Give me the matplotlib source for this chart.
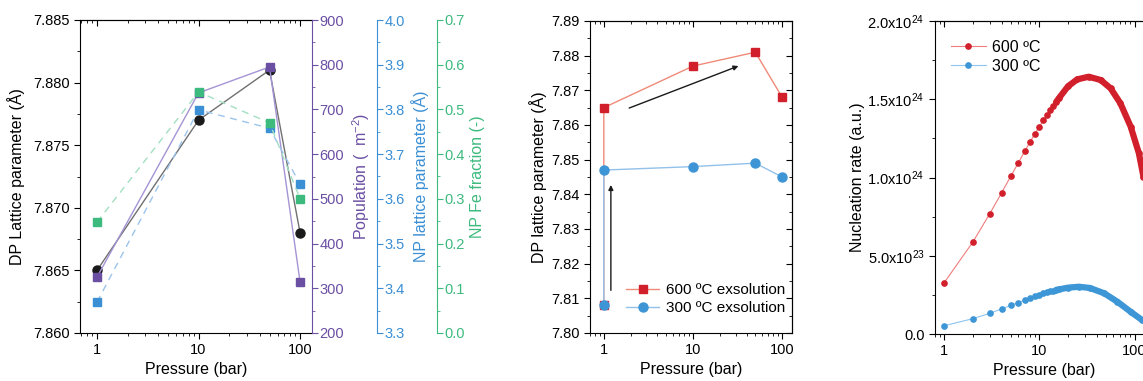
import numpy as np
import matplotlib
matplotlib.use("Agg")
import matplotlib.pyplot as plt
from matplotlib.ticker import MultipleLocator, FuncFormatter, LogLocator, NullFormatter, FixedLocator

plt.rcParams['font.family'] = ['Liberation Sans', 'DejaVu Sans']
plt.rcParams['font.size'] = 10.5
plt.rcParams['mathtext.fontset'] = 'custom'
plt.rcParams['mathtext.rm'] = 'Liberation Sans'
plt.rcParams['mathtext.default'] = 'regular'

# ---- panel 1 data ----
pressure = [1, 10, 50, 100]
dp_lattice = [7.865, 7.877, 7.881, 7.868]
population = [325, 737, 795, 314]
np_lattice = [3.369, 3.799, 3.758, 3.633]
fe_fraction = [0.248, 0.539, 0.470, 0.300]

# ---- panel 2 data ----
p_exs = [1, 1, 10, 50, 100]
dp_600 = [7.808, 7.865, 7.877, 7.881, 7.868]
dp_300 = [7.808, 7.847, 7.848, 7.849, 7.845]

# ---- panel 3 data ----
p_nuc = [1, 2, 3, 4, 5, 6, 7, 8, 9, 10, 11, 12, 13, 14, 15,
         16, 20, 25, 33, 44, 56, 71, 91, 111, 124]
rate_600 = [0.328, 0.588, 0.767, 0.901, 1.008, 1.093, 1.167, 1.229, 1.280, 1.325,
            1.365, 1.399, 1.429, 1.457, 1.482,
            1.506, 1.583, 1.627, 1.644, 1.623, 1.570, 1.474, 1.325, 1.155, 1.005]
p_nuc_300 = [1, 2, 3, 4, 5, 6, 7, 8, 9, 10, 11, 12, 13, 14, 15,
             16, 20, 26, 34, 48, 66, 91, 120]
rate_300 = [0.053, 0.098, 0.132, 0.160, 0.183, 0.200, 0.217, 0.230, 0.241, 0.251,
            0.259, 0.266, 0.272, 0.277, 0.282,
            0.285, 0.296, 0.302, 0.294, 0.260, 0.206, 0.142, 0.089]
rate_scale = 1e24

BLACK = '#1a1a1a'
PURPLE = '#6a4fa3'
BLUE = '#3b8fd4'
GREEN = '#3dba7e'
RED = '#d11f2b'

W, H = 1143, 381
fig = plt.figure(figsize=(W / 100, H / 100), dpi=100)


def box(left, top, right, bottom):
    return [left / W, (H - bottom) / H, (right - left) / W, (bottom - top) / H]


def log_x(ax, lo, hi):
    ax.set_xscale('log')
    ax.set_xlim(lo, hi)
    ax.tick_params(axis='x', which='major', direction='out', length=4)
    ax.tick_params(axis='x', which='minor', direction='out', length=2)
    ax.set_xlabel('Pressure (bar)', fontsize=11.5)
    ax.xaxis.set_label_coords(0.5, -0.093)
    top = ax.secondary_xaxis('top')
    top.tick_params(which='major', direction='in', length=4, labeltop=False)
    top.tick_params(which='minor', direction='in', length=2)
    top.xaxis.set_major_locator(FixedLocator([1, 10, 100]))
    top.xaxis.set_minor_locator(LogLocator(base=10, subs=np.arange(2, 10)))
    top.xaxis.set_minor_formatter(NullFormatter())


def x_labels(ax):
    ax.xaxis.set_major_locator(FixedLocator([1, 10, 100]))
    ax.xaxis.set_major_formatter(FuncFormatter(lambda v, p: f'{v:g}'))
    ax.xaxis.set_minor_locator(LogLocator(base=10, subs=np.arange(2, 10)))
    ax.xaxis.set_minor_formatter(NullFormatter())


# ================= panel 1 =================
ax1 = fig.add_axes(box(80, 20, 312, 333))
log_x(ax1, 0.68, 131)
ax1.spines['right'].set_visible(False)
ax1.plot(pressure, dp_lattice, color='#707070', lw=1, zorder=2)
ax1.plot(pressure, dp_lattice, 'o', color=BLACK, ms=6.5, zorder=5)
ax1.set_ylim(7.860, 7.885)
ax1.yaxis.set_major_locator(MultipleLocator(0.005))
ax1.yaxis.set_minor_locator(MultipleLocator(0.0025))
ax1.yaxis.set_major_formatter(FuncFormatter(lambda v, p: f'{v:.3f}'))
ax1.tick_params(axis='y', which='major', direction='out', length=4)
ax1.tick_params(axis='y', which='minor', direction='out', length=2)
ax1.set_ylabel('DP Lattice parameter (Å)', fontsize=11.5)
ax1.yaxis.set_label_coords(-0.237, 0.5)

extra = [
    (population, PURPLE, '#a594d4', '-', (200, 900), 100, 'Population (  m$^{-2}$)', 0.0, '{:.0f}', 1.164),
    (np_lattice, BLUE, '#9cc4ec', (0, (5, 4)), (3.3, 4.0), 0.1, 'NP lattice parameter (Å)', 65 / 232, '{:.1f}', 1.427),
    (fe_fraction, GREEN, '#a3dfc2', (0, (5, 4)), (0.0, 0.7), 0.1, 'NP Fe fraction (-)', 125 / 232, '{:.1f}', 1.68),
]
for vals, col, lcol, ls, lims, step, label, off, fmt, lx in extra:
    tw = ax1.twinx()
    for s in ['top', 'left', 'bottom']:
        tw.spines[s].set_visible(False)
    tw.spines['right'].set_position(('axes', 1 + off))
    tw.spines['right'].set_color(col)
    tw.plot(pressure, vals, color=lcol, lw=1, ls=ls, zorder=2)
    tw.plot(pressure, vals, 's', color=col, ms=5.5, zorder=4)
    tw.set_ylim(*lims)
    tw.yaxis.set_major_locator(MultipleLocator(step))
    tw.yaxis.set_minor_locator(MultipleLocator(step / 2))
    tw.yaxis.set_major_formatter(FuncFormatter(lambda v, p, f=fmt: f.format(abs(v) if abs(v) < 1e-9 else v)))
    tw.tick_params(axis='y', which='major', direction='out', length=4, colors=col, pad=1.5)
    tw.tick_params(axis='y', which='minor', direction='out', length=2, colors=col)
    tw.set_ylabel(label, color=col, fontsize=11.5)
    tw.yaxis.set_label_coords(lx, 0.5)
ax1.set_xlim(0.68, 131)
x_labels(ax1)

# ================= panel 2 =================
ax2 = fig.add_axes(box(590, 21, 792, 333))
log_x(ax2, 0.70, 129)
x_labels(ax2)
ax2.plot(p_exs, dp_600, color='#f08a78', lw=1, marker='s', ms=6, mfc=RED, mec=RED,
         label='600 ºC exsolution')
ax2.plot(p_exs, dp_300, color='#92c1ea', lw=1, marker='o', ms=6.5, mfc='#3d95d6', mec='#3d95d6',
         label='300 ºC exsolution')
ax2.set_ylim(7.80, 7.89)
ax2.yaxis.set_major_locator(MultipleLocator(0.01))
ax2.yaxis.set_minor_locator(MultipleLocator(0.005))
ax2.yaxis.set_major_formatter(FuncFormatter(lambda v, p: f'{v:.2f}'))
ax2.tick_params(axis='y', which='major', direction='out', length=4)
ax2.tick_params(axis='y', which='minor', direction='out', length=2)
right2 = ax2.secondary_yaxis('right')
right2.tick_params(which='both', direction='in', labelright=False)
right2.tick_params(which='major', length=4)
right2.tick_params(which='minor', length=2)
right2.yaxis.set_major_locator(MultipleLocator(0.01))
right2.yaxis.set_minor_locator(MultipleLocator(0.005))
ax2.set_ylabel('DP lattice parameter (Å)', fontsize=11.5)
ax2.yaxis.set_label_coords(-0.213, 0.5)
ax2.annotate('', xy=(1.2, 7.8435), xytext=(1.2, 7.8115),
             arrowprops=dict(arrowstyle='-|>', color=BLACK, lw=1, mutation_scale=7))
ax2.annotate('', xy=(34.6, 7.8773), xytext=(1.8, 7.8646),
             arrowprops=dict(arrowstyle='-|>', color=BLACK, lw=1, mutation_scale=7))
ax2.legend(loc='lower right', bbox_to_anchor=(1.01, 0.028), frameon=False, fontsize=11,
           handlelength=2.2, handletextpad=0.4, labelspacing=0.25, borderaxespad=0.2)

# ================= panel 3 =================
ax3 = fig.add_axes(box(935, 21, 1154, 334))
log_x(ax3, 0.80, 160)
x_labels(ax3)
r600 = np.array(rate_600) * rate_scale
r300 = np.array(rate_300) * rate_scale
k = 15
ax3.plot(p_nuc, r600, color='#ef7d7d', lw=0.8, marker='o', ms=3.8, mfc=RED, mec=RED, label='600 ºC')
ax3.plot(p_nuc[k - 1:], r600[k - 1:], color=RED, lw=4.5, solid_capstyle='round')
ax3.plot(p_nuc_300, r300, color='#8ec4ee', lw=0.8, marker='o', ms=3.8, mfc='#3d96d6', mec='#3d96d6',
         label='300 ºC')
ax3.plot(p_nuc_300[k - 1:], r300[k - 1:], color='#3d96d6', lw=4.5, solid_capstyle='round')
ax3.set_ylim(0, 2.0e24)
ax3.yaxis.set_major_locator(MultipleLocator(0.5e24))
ax3.yaxis.set_minor_locator(MultipleLocator(0.25e24))


def sci(v, p):
    if v <= 1e10:
        return '0.0'
    e = int(np.floor(np.log10(v) + 1e-9))
    return f'{v / 10 ** e:.1f}x10$^{{{e}}}$'


ax3.yaxis.set_major_formatter(FuncFormatter(sci))
ax3.tick_params(axis='y', which='major', direction='out', length=4)
ax3.tick_params(axis='y', which='minor', direction='out', length=2)
ax3.set_ylabel('Nucleation rate (a.u.)', fontsize=11.5)
ax3.yaxis.set_label_coords(-0.32, 0.5)
ax3.legend(loc='upper left', bbox_to_anchor=(0.02, 0.975), frameon=False, fontsize=11.5,
           handlelength=2.2, handletextpad=0.4, labelspacing=0.25, borderaxespad=0.3)

fig.savefig('out.png', dpi=100)
